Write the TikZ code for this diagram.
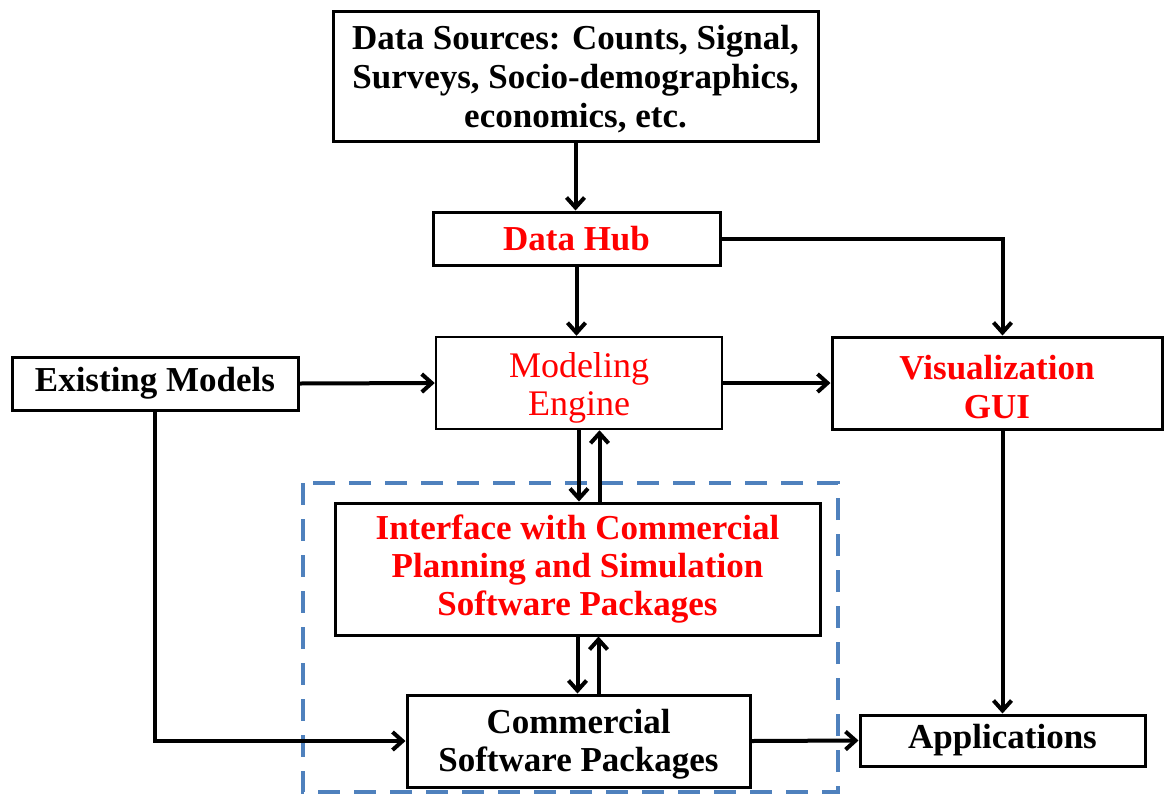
\documentclass[tikz,border=0pt]{standalone}
\usepackage{fontspec}
\setmainfont{Liberation Serif}
\usetikzlibrary{arrows.meta,calc}
\definecolor{dashblue}{HTML}{4F81BD}
\definecolor{txtred}{HTML}{FF0000}
\begin{document}
\begin{tikzpicture}[x=1pt,y=-1pt,
  box/.style={draw=black, line width=3pt, rectangle, inner sep=0pt, align=center,
    font=\fontsize{35}{39}\selectfont\bfseries},
  redbox/.style={box, text=txtred},
  arr/.style={draw=black, line width=4pt, -{Straight Barb[length=10pt,width=18pt]}}
]
\useasboundingbox (0,0) rectangle (1165,796);
\draw[dashblue, line width=4.5pt, dash pattern=on 22pt off 14pt] (303,483) rectangle (838,792);

\node[box, minimum width=485pt, minimum height=130pt] (ds) at (575.5,76)
  {\rule{0pt}{30pt}Data Sources: Counts, Signal,\\Surveys, Socio-demographics,\\economics, etc.};
\node[redbox, minimum width=287pt, minimum height=53pt] (dh) at (576.5,238.5) {Data Hub};
\node[box, line width=2.5pt, text=txtred, minimum width=286pt, minimum height=92pt,
  font=\fontsize{36}{38}\selectfont] (me) at (579,383) {\rule{0pt}{34pt}Modeling\\Engine};
\node[redbox, minimum width=330pt, minimum height=92pt] (vis) at (997,383) {\rule{0pt}{32pt}Visualization\\GUI};
\node[box, minimum width=286pt, minimum height=53pt] (em) at (155,383.5) {Existing Models};
\node[redbox, minimum width=485pt, minimum height=132pt, font=\fontsize{35}{38}\selectfont\bfseries] (inf) at (577.5,569)
  {Interface with Commercial\\Planning and Simulation\\Software Packages};
\node[box, minimum width=343pt, minimum height=92pt, font=\fontsize{35}{38}\selectfont\bfseries] (csp) at (578.5,741)
  {\rule{0pt}{30pt}Commercial\\Software Packages};
\node[box, minimum width=285pt, minimum height=51pt] (app) at (1002.5,740.5) {Applications};

\draw[arr] (ds.south) -- (ds.south |- dh.north);
\draw[arr] (dh.south) -- (dh.south |- me.north);
\draw[arr] (dh.east) -| (app.north |- vis.north);
\draw[arr] (em.east) -- (me.west);
\draw[arr] (me.east) -- (vis.west);
\draw[arr] (me.south) -- (me.south |- inf.north);
\coordinate (u1) at ($(inf.north)+(22,0)$);
\draw[arr] (u1) -- (u1 |- me.south);
\draw[arr] (inf.south) -- (inf.south |- csp.north);
\coordinate (u2) at ($(csp.north)+(20,0)$);
\draw[arr] (u2) -- (u2 |- inf.south);
\draw[arr] (em.south) |- (csp.west);
\draw[arr] (csp.east) -- (app.west);
\draw[arr] (app.north |- vis.south) -- (app.north);
\end{tikzpicture}
\end{document}
